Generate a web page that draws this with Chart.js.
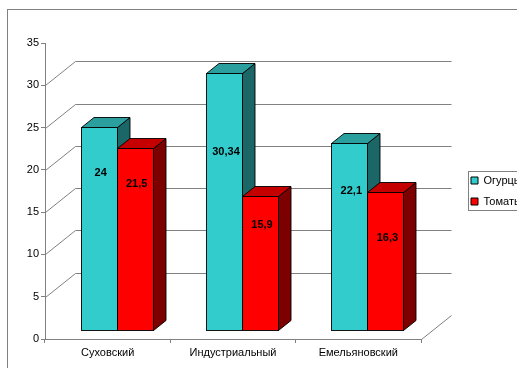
<!DOCTYPE html>
<html>
<head>
<meta charset="utf-8">
<script src="https://cdn.jsdelivr.net/npm/chart.js@4/dist/chart.umd.min.js"></script>
<style>
  html, body { margin: 0; padding: 0; background: #fff; overflow: hidden; }
  #wrap { width: 517px; height: 368px; }
</style>
</head>
<body>
<div id="wrap"><canvas id="c" width="517" height="368"></canvas></div>
<script>
// Districts and yields per crop
const districts = ['Суховский', 'Индустриальный', 'Емельяновский'];
const seriesNames = ['Огурцы', 'Томаты'];
const cucumbers = [24, 30.34, 22.1];
const tomatoes = [21.5, 15.9, 16.3];
const yMin = 0, yMax = 35, yStep = 5;

// Face shades for each series: front, top, side
const shades = [
  { front: '#33CCCC', top: '#2B9E9E', side: '#1B6666' },
  { front: '#FF0000', top: '#C40000', side: '#7C0000' }
];

const FONT = '"Liberation Sans", Arial, sans-serif';
Chart.defaults.font.family = FONT;
Chart.defaults.font.size = 11;
Chart.defaults.color = '#000';

// Pseudo-3D bars: the bars stand a little behind the front axis plane,
// the wall behind them recedes further back.
const bar3d = {
  id: 'bar3d',
  beforeDraw(chart) {
    const ctx = chart.ctx;
    ctx.save();
    ctx.strokeStyle = '#808080';
    ctx.lineWidth = 1;
    ctx.strokeRect(7.5, 9.5, chart.width + 20, chart.height + 20);
    ctx.restore();
  },
  beforeDatasetsDraw(chart, args, opts) {
    const ctx = chart.ctx;
    const ys = chart.scales.y;
    const area = chart.chartArea;
    const wall = opts.wall, shift = opts.shift, depth = opts.depth;

    ctx.save();
    ctx.strokeStyle = '#808080';
    ctx.lineWidth = 1;
    // wall gridlines: a slanted stroke from the axis, then across the back
    ys.ticks.forEach(t => {
      if (t.value <= ys.min || t.value >= ys.max) return;
      const py = Math.round(ys.getPixelForValue(t.value)) + 0.5;
      ctx.beginPath();
      ctx.moveTo(area.left + 0.5, py);
      ctx.lineTo(area.left + wall.dx + 0.5, py + wall.dy);
      ctx.lineTo(area.right + wall.dx + 0.5, py + wall.dy);
      ctx.stroke();
    });
    // right edge of the floor
    const p0 = Math.round(ys.getPixelForValue(0)) + 0.5;
    ctx.beginPath();
    ctx.moveTo(Math.round(area.right) + 0.5, p0);
    ctx.lineTo(Math.round(area.right) + wall.dx + 0.5, p0 + wall.dy);
    ctx.stroke();

    // bars, category by category, front series first
    const metas = chart.data.datasets.map((_, i) => chart.getDatasetMeta(i));
    ctx.strokeStyle = 'rgba(0,0,0,0.9)';
    ctx.lineJoin = 'miter';
    for (let i = 0; i < districts.length; i++) {
      metas.forEach((meta, d) => {
        const el = meta.data[i];
        const half = el.width / 2;
        const x0 = Math.round(el.x - half + shift.dx) + 0.5;
        const x1 = Math.round(el.x + half + shift.dx) + 0.5;
        const yt = Math.round(el.y + shift.dy) + 0.5;
        const yb = Math.round(el.base + shift.dy) + 0.5;
        const c = shades[d];
        // side
        ctx.fillStyle = c.side;
        ctx.beginPath();
        ctx.moveTo(x1, yb);
        ctx.lineTo(x1 + depth.dx, yb + depth.dy);
        ctx.lineTo(x1 + depth.dx, yt + depth.dy);
        ctx.lineTo(x1, yt);
        ctx.closePath();
        ctx.fill(); ctx.stroke();
        // top
        ctx.fillStyle = c.top;
        ctx.beginPath();
        ctx.moveTo(x0, yt);
        ctx.lineTo(x0 + depth.dx, yt + depth.dy);
        ctx.lineTo(x1 + depth.dx, yt + depth.dy);
        ctx.lineTo(x1, yt);
        ctx.closePath();
        ctx.fill(); ctx.stroke();
        // front
        ctx.fillStyle = c.front;
        ctx.fillRect(x0, yt, x1 - x0, yb - yt);
        ctx.strokeRect(x0, yt, x1 - x0, yb - yt);
      });
    }

    // value labels
    ctx.fillStyle = '#000';
    ctx.font = 'bold 11px ' + FONT;
    ctx.textAlign = 'center';
    ctx.textBaseline = 'middle';
    metas.forEach((meta, d) => {
      const values = chart.data.datasets[d].data;
      meta.data.forEach((el, i) => {
        const rise = opts.labelRise[d][i];
        const bx = el.x + shift.dx + 2;
        const by = el.base + shift.dy - (el.base - el.y) * rise;
        ctx.fillText(String(values[i]).replace('.', ','), bx, by);
      });
    });
    ctx.restore();
    return false;
  },
  afterDraw(chart) {
    const hb = chart.legend && chart.legend.legendHitBoxes;
    if (!hb || !hb.length) return;
    const ctx = chart.ctx;
    const l = Math.round(hb[0].left) - 2.5;
    const t = Math.round(hb[0].top) - 3.5;
    const last = hb[hb.length - 1];
    const b = Math.round(last.top + last.height) + 3.5;
    ctx.save();
    ctx.strokeStyle = '#808080';
    ctx.lineWidth = 1;
    ctx.strokeRect(l, t, chart.width + 20 - l, b - t);
    ctx.restore();
  }
};

new Chart(document.getElementById('c'), {
  type: 'bar',
  data: {
    labels: districts,
    datasets: [
      { label: seriesNames[0], data: cucumbers, backgroundColor: shades[0].front, borderColor: '#000', borderWidth: 1 },
      { label: seriesNames[1], data: tomatoes, backgroundColor: shades[1].front, borderColor: '#000', borderWidth: 1 }
    ]
  },
  options: {
    responsive: false,
    animation: false,
    devicePixelRatio: 1,
    categoryPercentage: 0.575,
    barPercentage: 1,
    layout: { padding: { top: 43, left: 0, right: 0, bottom: 0 } },
    plugins: {
      tooltip: { enabled: false },
      legend: {
        position: 'right',
        fullSize: false,
        maxWidth: 56,
        labels: { boxWidth: 7, boxHeight: 7, padding: 10, color: '#000', font: { size: 11 } }
      },
      bar3d: {
        wall: { dx: 30, dy: -24 },
        shift: { dx: 9, dy: -9 },
        depth: { dx: 12.5, dy: -10 },
        labelRise: [[0.774, 0.694, 0.744], [0.803, 0.781, 0.668]]
      }
    },
    scales: {
      x: {
        grid: { display: true, drawOnChartArea: false, drawTicks: true, tickLength: 4, color: '#808080', offset: true },
        border: { display: true, color: '#808080' },
        ticks: { padding: 3, color: '#000', font: { size: 11 } },
        afterFit(s) { s.height = 29; }
      },
      y: {
        min: yMin, max: yMax,
        grid: { display: true, drawOnChartArea: false, drawTicks: true, tickLength: 4, color: '#808080' },
        border: { display: true, color: '#808080' },
        ticks: { stepSize: yStep, padding: 2, color: '#000', font: { size: 11 } },
        afterFit(s) { s.width = 45; }
      },
      gap: {
        type: 'linear',
        position: 'right',
        grid: { display: false },
        border: { display: false },
        ticks: { display: false },
        afterFit(s) { s.width = 40; }
      }
    }
  },
  plugins: [bar3d]
});
</script>
</body>
</html>
